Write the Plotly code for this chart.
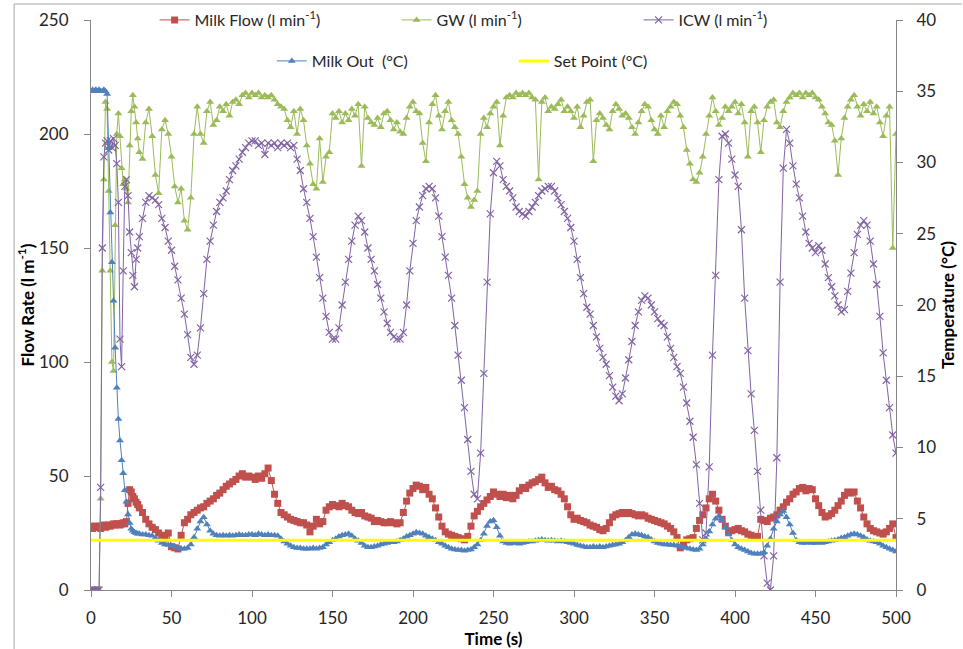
import plotly.graph_objects as go

# ---- time axis (s): 1 s samples for the first 30 s, then every 2 s ----
time_s = list(range(0, 30)) + list(range(30, 501, 2))

# ---- Milk Flow (l/min), left axis ----
milk_flow = [
    28, 27, 27.5, 28, 27.5, 28, 27, 28, 28.5, 27.5,
    28, 28.5, 28, 28.5, 29, 28.5, 29, 29, 28.5, 29,
    29.5, 29, 30, 38, 44, 43, 41, 40, 38.5, 37.5,
    36, 34, 31, 29, 27.5, 26.5, 25, 24, 22.5, 25,
    19, 18.5, 18, 24, 29.5, 31, 33, 34, 35, 36,
    36.5, 38, 39, 40, 41.5, 42.5, 44, 45.5, 46.5, 47.5,
    48.5, 50, 51, 49.5, 50, 49.5, 48.5, 50, 49, 51,
    53.5, 48, 42, 38, 34, 33, 32, 31, 30.5, 30,
    29.5, 29.5, 28.5, 25.5, 28, 31, 29, 30, 35, 36.5,
    37.5, 37, 36.5, 38, 37, 36.5, 35, 34, 33.5, 34,
    32.5, 32, 31.5, 30, 30.5, 30, 29.5, 29.5, 30, 29.5,
    29, 29.5, 34, 39, 42.5, 44.5, 46, 45.5, 44, 45,
    42, 40, 36, 32, 28, 25.5, 24.5, 24, 23.5, 23,
    22.5, 22, 23.5, 28, 32.5, 34.5, 36.5, 38, 39.5, 41,
    43, 42, 41, 42, 40.5, 41.5, 40, 41.5, 43.5, 45,
    44.5, 46, 47, 47.5, 48.5, 49.5, 47, 45, 45.5, 44,
    43.5, 42, 40, 36.5, 33, 31, 31.5, 30.5, 30, 29.5,
    28.5, 28, 27.5, 26.5, 26, 27, 29.5, 32, 33, 33.5,
    34, 33.5, 34, 33.5, 33, 32.5, 33, 32.5, 31.5, 31,
    30.5, 30, 29.5, 29, 28, 27, 25.5, 23, 18.5, 20,
    22, 22.5, 23, 27, 30.5, 33, 36, 40, 42, 39,
    35, 31, 28, 25.5, 26, 26.5, 27, 26, 25.5, 24.5,
    24, 23, 23.5, 31, 30.5, 30, 31.5, 32, 33, 35,
    36.5, 38.5, 40, 42, 43, 44.5, 45, 43.5, 44.5, 44,
    40, 37, 34, 32, 32.5, 33.5, 35, 37, 39, 41.5,
    43, 42.5, 43, 39, 36, 32, 29, 27, 26, 25.5,
    25, 24.5, 25.5, 27, 29, 23,
]

# ---- GW (l/min), left axis ----
gw = [
    0, 0, 0, 0, 0, 0, 40, 140, 180, 214,
    211, 175, 140, 100, 96, 160, 200, 209, 199, 185,
    178, 180, 176, 170, 195, 210, 217, 212, 205, 198,
    192, 189, 205, 211, 199, 182, 174, 202, 206, 200,
    190, 177, 170, 176, 162, 158, 172, 200, 212, 200,
    196, 210, 214, 204, 206, 212, 210, 213, 208, 214,
    215, 213, 217, 218, 216, 218, 217, 218, 216, 217,
    216, 217, 215, 213, 212, 211, 206, 203, 210, 200,
    211, 206, 195, 187, 178, 176, 198, 179, 190, 192,
    209, 207, 210, 205, 209, 206, 211, 208, 213, 186,
    212, 207, 205, 204, 207, 203, 209, 210, 206, 202,
    205, 201, 200, 207, 212, 214, 210, 209, 196, 188,
    205, 213, 217, 208, 202, 210, 214, 206, 203, 200,
    190, 178, 172, 168, 171, 175, 200, 207, 203, 209,
    212, 214, 195, 208, 216, 217, 216, 218, 217, 218,
    217, 218, 216, 215, 180, 214, 216, 210, 212, 211,
    213, 215, 210, 212, 210, 207, 212, 203, 208, 214,
    215, 188, 206, 209, 207, 204, 202, 210, 213, 211,
    208, 209, 207, 203, 200, 205, 210, 213, 212, 206,
    202, 200, 208, 203, 210, 212, 214, 213, 208, 203,
    193, 187, 180, 179, 183, 190, 200, 208, 216, 210,
    204, 207, 212, 210, 212, 214, 209, 213, 205, 190,
    210, 212, 205, 192, 206, 212, 214, 215, 205, 203,
    210, 214, 216, 218, 217, 218, 216, 218, 217, 218,
    216, 215, 212, 209, 205, 204, 197, 182, 198, 207,
    212, 215, 217, 212, 208, 213, 210, 214, 209, 212,
    205, 199, 208, 212, 150, 200,
]

# ---- ICW (l/min), left axis ----
icw = [
    0, 0, 0, 0, 0, 0, 45, 150, 190, 196,
    197, 193, 197, 194, 198, 195, 187, 170, 110, 98,
    140, 177, 180, 173, 157, 148, 138, 133, 145, 150,
    155, 163, 170, 173, 172, 171, 169, 163, 159, 153,
    149, 142, 136, 128, 121, 112, 102, 99, 103, 115,
    130, 145, 153, 160, 166, 170, 172, 175, 180, 184,
    186, 189, 192, 194, 196, 197, 197, 195, 196, 191,
    196, 195, 196, 194, 196, 195, 196, 194, 195, 189,
    184, 176, 170, 163, 155, 146, 137, 128, 120, 113,
    110, 110, 115, 125, 135, 145, 153, 160, 164, 162,
    157, 150, 145, 140, 134, 128, 122, 117, 113, 111,
    110, 110, 113, 125, 140, 152, 162, 168, 173, 176,
    177, 176, 172, 164, 155, 146, 138, 128, 116, 103,
    92, 80, 66, 52, 42, 40, 60, 95, 135, 165,
    183, 188, 186, 180, 177, 175, 172, 168, 166, 165,
    164, 166, 168, 170, 173, 175, 176, 177, 177, 175,
    172, 169, 166, 163, 159, 153, 145, 137, 130, 124,
    121, 116, 111, 106, 102, 99, 94, 89, 85, 83,
    86, 93, 101, 109, 116, 122, 127, 129, 128, 125,
    122, 119, 117, 116, 111, 106, 102, 98, 95, 89,
    82, 74, 67, 55, 38, 22, 25, 54, 103, 138,
    180, 199, 200, 196, 189, 182, 177, 158, 128, 105,
    86, 70, 52, 35, 15, 3, 0, 15, 58, 135,
    185, 202, 196, 186, 178, 172, 164, 157, 152, 150,
    148, 151, 149, 143, 137, 133, 129, 125, 122, 123,
    131, 139, 148, 156, 160, 162, 160, 153, 143, 134,
    120, 104, 92, 80, 68, 60,
]

# ---- Milk Out (deg C), right axis ----
milk_out = [
    35, 35.1, 35, 35.1, 35, 35.1, 35, 35, 35.1, 35,
    34.8, 31, 26.5, 23, 20.3, 17, 14.2, 12, 10.5, 9.1,
    8.2, 7, 6.2, 5.3, 4.7, 4.3, 4.15, 4.05, 4, 3.95,
    3.95, 3.9, 3.9, 3.85, 3.8, 3.65, 3.45, 3.3, 3.2, 3.15,
    3.1, 3.05, 2.95, 2.9, 2.9, 2.95, 3.2, 3.7, 4.3, 4.8,
    5.1, 4.6, 4.15, 3.95, 3.85, 3.8, 3.85, 3.8, 3.85, 3.8,
    3.85, 3.9, 3.85, 3.85, 3.9, 3.9, 3.85, 3.95, 3.9, 3.85,
    3.9, 3.85, 3.85, 3.8, 3.6, 3.4, 3.25, 3.1, 3.0, 2.95,
    2.95, 2.9, 2.9, 2.9, 2.95, 2.9, 2.95, 3.0, 3.2, 3.35,
    3.5, 3.6, 3.75, 3.85, 3.9, 3.95, 3.8, 3.6, 3.45, 3.3,
    3.1, 3.0, 3.0, 3.05, 3.1, 3.2, 3.25, 3.3, 3.35, 3.35,
    3.4, 3.5, 3.6, 3.75, 3.85, 3.95, 4.05, 4.0, 3.95, 3.8,
    3.7, 3.6, 3.5, 3.35, 3.25, 3.1, 3.0, 2.9, 2.85, 2.8,
    2.8, 2.75, 2.8, 2.85, 3.0, 3.2, 3.5, 3.95, 4.5, 4.8,
    4.9, 4.4, 3.8, 3.4, 3.3, 3.25, 3.3, 3.3, 3.25, 3.3,
    3.35, 3.4, 3.4, 3.45, 3.5, 3.55, 3.5, 3.45, 3.5, 3.45,
    3.4, 3.45, 3.4, 3.35, 3.3, 3.25, 3.15, 3.1, 3.05, 3.0,
    3.0, 3.05, 3.0, 3.05, 3.0, 3.05, 3.1, 3.15, 3.2, 3.25,
    3.35, 3.5, 3.7, 3.9, 3.95, 3.9, 3.85, 3.75, 3.7, 3.55,
    3.4, 3.3, 3.25, 3.2, 3.2, 3.15, 3.15, 3.1, 3.05, 3.0,
    2.95, 2.9, 2.85, 2.8, 2.9, 3.2, 3.6, 4.1, 4.6, 5.0,
    5.2, 4.9, 4.4, 3.9, 3.5, 3.2, 3.0, 2.9, 2.8, 2.7,
    2.6, 2.55, 2.55, 2.55, 2.65, 3.1, 3.6, 4.3, 4.8, 5.3,
    5.55, 5.1, 4.6, 4.0, 3.5, 3.35, 3.3, 3.3, 3.35, 3.3,
    3.3, 3.35, 3.3, 3.35, 3.4, 3.45, 3.5, 3.55, 3.65, 3.7,
    3.8, 3.9, 3.95, 3.9, 3.8, 3.7, 3.55, 3.45, 3.4, 3.35,
    3.25, 3.1, 3.0, 2.9, 2.8, 2.7,
]

# ---- Set point (deg C), right axis ----
set_point_time = [0, 500]
set_point = [3.5, 3.5]

# ---- axis ticks ----
x_ticks = [0, 50, 100, 150, 200, 250, 300, 350, 400, 450, 500]
flow_ticks = [0, 50, 100, 150, 200, 250]
temp_ticks = [0, 5, 10, 15, 20, 25, 30, 35, 40]

assert len(milk_flow) == len(time_s) == len(gw) == len(icw) == len(milk_out)

FONT = "Lato, 'Liberation Sans', Arial, sans-serif"
AXIS_COL = "#868686"
TXT = "#262626"

fig = go.Figure()
fig.add_trace(go.Scatter(
    x=time_s, y=milk_flow, name="Milk Flow (l min<sup>-1</sup>)", mode="lines+markers",
    line=dict(color="#C0504D", width=1), marker=dict(symbol="square", size=7, color="#C0504D"),
    legend="legend"))
fig.add_trace(go.Scatter(
    x=time_s, y=gw, name="GW (l min<sup>-1</sup>)", mode="lines+markers",
    line=dict(color="#9BBB59", width=1), marker=dict(symbol="triangle-up", size=7, color="#9BBB59"),
    legend="legend"))
fig.add_trace(go.Scatter(
    x=time_s, y=icw, name="ICW (l min<sup>-1</sup>)", mode="lines+markers",
    line=dict(color="#8064A2", width=1),
    marker=dict(symbol="x-thin", size=7, color="#8064A2", line=dict(width=1.2, color="#8064A2")),
    legend="legend"))
fig.add_trace(go.Scatter(
    x=time_s, y=milk_out, name="Milk Out \u00a0(°C)", mode="lines+markers", yaxis="y2",
    line=dict(color="#4F81BD", width=1), marker=dict(symbol="triangle-up", size=7, color="#4F81BD"),
    legend="legend2"))
fig.add_trace(go.Scatter(
    x=set_point_time, y=set_point, name="Set Point (°C)", mode="lines", yaxis="y2",
    line=dict(color="#FFFF00", width=3), legend="legend2"))

axis_common = dict(
    showgrid=False, zeroline=False, showline=True, linecolor=AXIS_COL, linewidth=1,
    ticks="outside", ticklen=6, tickcolor=AXIS_COL, tickfont=dict(family=FONT, size=17, color=TXT),
    automargin=False,
)

# paper coords: margins l=91, r=67, t=0, b=59 -> plot px x 91..896, y 0..590
PH = 590.0
def py(px):
    return (PH - px) / PH

fig.update_layout(
    width=963, height=649, autosize=False,
    margin=dict(l=91, r=67, t=0, b=59, pad=0),
    paper_bgcolor="white", plot_bgcolor="white",
    font=dict(family=FONT, color=TXT),
    xaxis=dict(range=[0, 500], tickvals=x_ticks, ticklabelstandoff=7,
               title=dict(text="<b>Time (s)</b>", font=dict(family=FONT, size=17, color="#000"), standoff=0),
               **axis_common),
    yaxis=dict(range=[0, 250], tickvals=flow_ticks, ticklabelstandoff=12, domain=[0, py(20)],
               title=dict(text="<b>Flow Rate (l m<sup>-1</sup>)</b>", font=dict(family=FONT, size=17, color="#000"), standoff=0),
               **axis_common),
    yaxis2=dict(range=[0, 40], tickvals=temp_ticks, overlaying="y", side="right", ticklabelstandoff=10,
                title=dict(text="<b>Temperature (°C)</b>", font=dict(family=FONT, size=17, color="#000"), standoff=6),
                **axis_common),
    legend=dict(orientation="h", x=0.079, xanchor="left", y=py(20), yanchor="middle",
                entrywidth=197, entrywidthmode="pixels", bgcolor="rgba(0,0,0,0)",
                font=dict(family=FONT, size=16, color=TXT)),
    legend2=dict(orientation="h", x=0.2246, xanchor="left", y=py(61), yanchor="middle",
                 entrywidth=197, entrywidthmode="pixels", bgcolor="rgba(0,0,0,0)",
                 font=dict(family=FONT, size=16, color=TXT)),
    shapes=[
        dict(type="line", xref="paper", yref="paper", x0=-0.0955, x1=1.082, y0=py(4), y1=py(4),
             line=dict(color="#a6a6a6", width=1)),
        dict(type="line", xref="paper", yref="paper", x0=-0.0955, x1=-0.0955, y0=py(649), y1=py(4),
             line=dict(color="#a6a6a6", width=1)),
    ],
)

fig.write_html("out.html", config={"displayModeBar": False},
               post_script="document.body.style.margin='0';document.body.style.padding='0';")
